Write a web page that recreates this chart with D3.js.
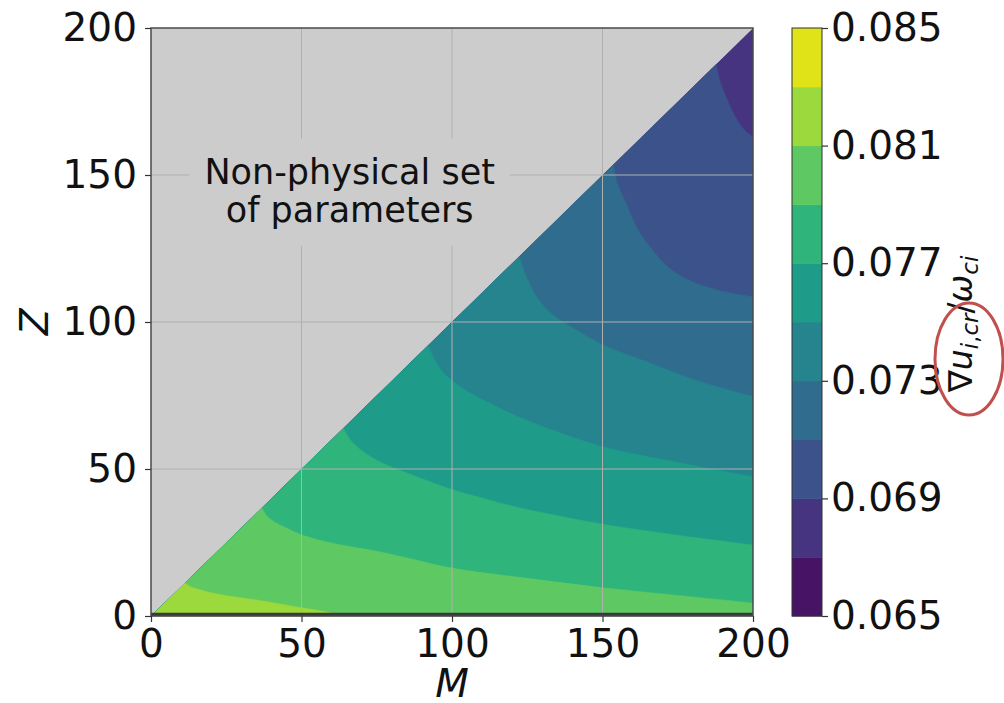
<!DOCTYPE html>
<html>
<head>
<meta charset="utf-8">
<script src="https://cdn.jsdelivr.net/npm/d3@7"></script>
<style>
  html, body { margin: 0; padding: 0; background: #ffffff; }
  svg { display: block; font-family: "DejaVu Sans", sans-serif; }
</style>
</head>
<body>
<svg id="chart" width="1004" height="703"></svg>
<script>
// ---------------- data ----------------
const M_TICKS = [0, 50, 100, 150, 200];
const Z_TICKS = [0, 50, 100, 150, 200];
const LEVELS = [0.065, 0.067, 0.069, 0.071, 0.073, 0.075, 0.077, 0.079, 0.081, 0.083, 0.085];
const CBAR_TICKS = [0.065, 0.069, 0.073, 0.077, 0.081, 0.085];
const CBAR_LABELS = ["0.065", "0.069", "0.073", "0.077", "0.081", "0.085"];

// contour lines [M, Z] for each level (value of the field on that line)
const c069 = [[187.8,187.8],[189,182],[191,176.6],[193,172],[195,168.3],[197.5,165],[200,163]];
const c071 = [[153.6,153.6],[155,147],[158,140],[162,131],[167,124],[172,118.5],[178,114.5],[186,111.5],[193,109.8],[200,108.6]];
const c073 = [[122.4,122.4],[124.5,116],[127,110.5],[130,106],[134,102],[141,97.5],[150,92.3],[166,86],[180,80.5],[200,74.6]];
const c075 = [[92.1,92.1],[94,87.5],[96.5,83.5],[100,80],[105,76.5],[110.4,73.5],[121.5,68],[132.6,63.5],[150,57.6],[176.8,51.9],[200,47.4]];
const c077 = [[63.9,63.9],[65.5,61],[67.5,58.5],[71,55.5],[75,53],[82,49.8],[88.3,47.4],[100,43],[110.4,40],[121.5,37],[133,34.5],[150,31.2],[176.8,27.2],[200,24.1]];
const c079 = [[36.8,36.8],[38.5,34],[41,32],[44,30.4],[49.5,27.8],[57,25.5],[66,23.6],[75,22],[83,20.2],[100,16.3],[125,12.8],[150,9.6],[175,7],[200,4.4]];
const c081 = [[11.3,11.3],[13,10],[16,9],[20,7.9],[27,6.6],[36,5.3],[49,3.0],[57,1.6],[64,0]];
const CONTOUR_LEVELS = [0.069, 0.071, 0.073, 0.075, 0.077, 0.079, 0.081];
const CONTOUR_LINES = [c069, c071, c073, c075, c077, c079, c081];

const NOTE_LINES = ["Non-physical set", "of parameters"];

// ---------------- layout ----------------
const svg = d3.select("#chart");
const plot = { left: 151, right: 753, top: 28, bottom: 616 };
const cbar = { left: 792, right: 822, top: 28, bottom: 616 };
const FONT = 39;

const x = d3.scaleLinear().domain([0, 200]).range([plot.left, plot.right]);
const y = d3.scaleLinear().domain([0, 200]).range([plot.bottom, plot.top]);
// colour of the band whose lower bound is v
const band = v => {
  const i = Math.round((v - LEVELS[0]) / (LEVELS[1] - LEVELS[0]));
  return d3.interpolateViridis((i + 0.5) / (LEVELS.length - 1));
};

// axes background (non-physical region)
svg.append("rect")
  .attr("x", plot.left).attr("y", plot.top)
  .attr("width", plot.right - plot.left).attr("height", plot.bottom - plot.top)
  .attr("fill", "#cccccc");

// clip to physical triangle Z <= M
const tri = [[0,0],[200,0],[200,200]];
const triPath = "M" + tri.map(p => x(p[0]) + "," + y(p[1])).join("L") + "Z";
svg.append("defs").append("clipPath").attr("id", "tri")
  .append("path").attr("d", triPath);

const g = svg.append("g").attr("clip-path", "url(#tri)");

// lowest visible band fills the whole triangle
g.append("path").attr("d", triPath).attr("fill", band(LEVELS[1]));

const curve = d3.line().x(d => x(d[0])).y(d => y(d[1])).curve(d3.curveCatmullRom.alpha(0.5));
CONTOUR_LINES.forEach((pts, k) => {
  const last = pts[pts.length - 1];
  let d = "M" + x(0) + "," + y(0) + "L" + curve(pts).slice(1);
  if (last[1] > 0) d += "L" + x(200) + "," + y(0);
  d += "Z";
  g.append("path").attr("d", d).attr("fill", band(CONTOUR_LEVELS[k]))
    .attr("stroke", band(CONTOUR_LEVELS[k])).attr("stroke-width", 0.6);
});

// grid lines
const grid = svg.append("g");
M_TICKS.slice(1, -1).forEach(m => grid.append("line")
  .attr("x1", x(m)).attr("x2", x(m)).attr("y1", plot.top).attr("y2", plot.bottom)
  .attr("stroke", "#b0b0b0").attr("stroke-width", 1));
Z_TICKS.slice(1, -1).forEach(z => grid.append("line")
  .attr("y1", y(z)).attr("y2", y(z)).attr("x1", plot.left).attr("x2", plot.right)
  .attr("stroke", "#b0b0b0").attr("stroke-width", 1));

// thick line at Z = 0
svg.append("line")
  .attr("x1", x(0)).attr("x2", x(200)).attr("y1", y(0) - 1.5).attr("y2", y(0) - 1.5)
  .attr("stroke", "#3a3a3a").attr("stroke-width", 3.5);

// annotation text with background box
const note = svg.append("g");
const noteBox = note.append("rect").attr("fill", "#cccccc");
const noteText = note.append("text")
  .attr("text-anchor", "middle").attr("font-size", 35).attr("fill", "#111");
NOTE_LINES.forEach((t, i) => noteText.append("tspan")
  .attr("x", x(66)).attr("y", y(146.8) + i * 37.5).text(t));
const bb = noteText.node().getBBox();
noteBox.attr("x", bb.x - 15).attr("y", bb.y - 14)
  .attr("width", bb.width + 30).attr("height", bb.height + 30);

// frame
svg.append("rect")
  .attr("x", plot.left).attr("y", plot.top)
  .attr("width", plot.right - plot.left).attr("height", plot.bottom - plot.top)
  .attr("fill", "none").attr("stroke", "#4a4a4a").attr("stroke-width", 1.5);

// axes
const xAxis = svg.append("g").attr("transform", `translate(0,${plot.bottom})`)
  .call(d3.axisBottom(x).tickValues(M_TICKS).tickFormat(d3.format("d")).tickSize(6).tickPadding(7));
const yAxis = svg.append("g").attr("transform", `translate(${plot.left},0)`)
  .call(d3.axisLeft(y).tickValues(Z_TICKS).tickFormat(d3.format("d")).tickSize(6).tickPadding(8));
[xAxis, yAxis].forEach(a => {
  a.select(".domain").remove();
  a.selectAll("line").attr("stroke", "#333").attr("stroke-width", 1.2);
  a.selectAll("text").attr("font-size", FONT).attr("fill", "#111")
    .attr("font-family", "DejaVu Sans");
});

// axis labels
svg.append("text").attr("x", x(100)).attr("y", 697)
  .attr("text-anchor", "middle").attr("font-size", FONT).attr("font-style", "italic")
  .attr("fill", "#111").text("M");
svg.append("text").attr("transform", `translate(48,${y(100)}) rotate(-90)`)
  .attr("text-anchor", "middle").attr("font-size", FONT).attr("font-style", "italic")
  .attr("fill", "#111").text("Z");

// colorbar
const yc = d3.scaleLinear().domain([LEVELS[0], LEVELS[LEVELS.length - 1]]).range([cbar.bottom, cbar.top]);
const cb = svg.append("g");
LEVELS.slice(0, -1).forEach((lv, i) => {
  cb.append("rect")
    .attr("x", cbar.left).attr("width", cbar.right - cbar.left)
    .attr("y", yc(LEVELS[i + 1])).attr("height", yc(lv) - yc(LEVELS[i + 1]) + 0.5)
    .attr("fill", band(lv));
});
cb.append("rect")
  .attr("x", cbar.left).attr("y", cbar.top)
  .attr("width", cbar.right - cbar.left).attr("height", cbar.bottom - cbar.top)
  .attr("fill", "none").attr("stroke", "#333").attr("stroke-width", 1);
const cAxis = svg.append("g").attr("transform", `translate(${cbar.right},0)`)
  .call(d3.axisRight(yc).tickValues(CBAR_TICKS)
    .tickFormat((d, i) => CBAR_LABELS[i]).tickSize(6).tickPadding(3));
cAxis.select(".domain").remove();
cAxis.selectAll("line").attr("stroke", "#333").attr("stroke-width", 1.2);
cAxis.selectAll("text").attr("font-size", FONT).attr("fill", "#111").attr("font-family", "DejaVu Sans");

// colorbar label: ∇u_{i,cr}/ω_{ci}
const labX = 972, labY = (cbar.top + cbar.bottom) / 2 + 2;
const lab = svg.append("text")
  .attr("transform", `translate(${labX},${labY}) rotate(-90)`)
  .attr("text-anchor", "middle").attr("font-size", 33).attr("fill", "#111");
lab.append("tspan").text("∇");
lab.append("tspan").attr("font-style", "italic").text("u");
lab.append("tspan").attr("font-size", 23).attr("font-style", "italic").attr("dy", 6).text("i");
lab.append("tspan").attr("font-size", 23).text(",");
lab.append("tspan").attr("font-size", 23).attr("font-style", "italic").text("cr");
lab.append("tspan").attr("dy", -6).text("/");
lab.append("tspan").attr("font-style", "italic").text("ω");
lab.append("tspan").attr("font-size", 23).attr("font-style", "italic").attr("dy", 6).text("ci");

// red ellipse annotation around the subscript
svg.append("ellipse")
  .attr("cx", labX - 3).attr("cy", labY + 35).attr("rx", 34).attr("ry", 56)
  .attr("fill", "none").attr("stroke", "#c0504d").attr("stroke-width", 3);
</script>
</body>
</html>
